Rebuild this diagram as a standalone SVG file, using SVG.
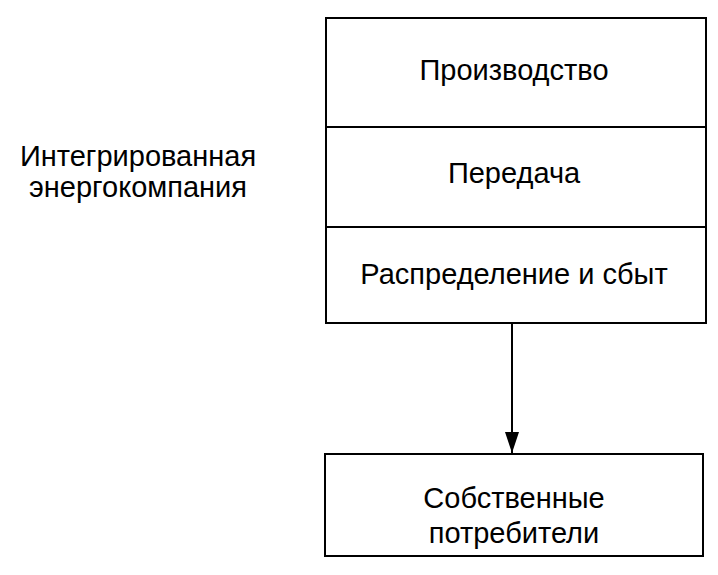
<svg xmlns="http://www.w3.org/2000/svg" width="718" height="575" viewBox="0 0 718 575">
<style>
.box{fill:#fff;stroke:#000;stroke-width:2}
.t{font-family:"Liberation Sans",Arial,sans-serif;font-size:29px;fill:#000;text-anchor:middle}
.c{stroke:#000;stroke-width:2;fill:none}
</style>
<defs>
<marker id="ah" markerUnits="userSpaceOnUse" markerWidth="22" markerHeight="14" refX="21" refY="7" orient="auto" viewBox="0 0 22 14">
<path d="M0,0 L21,7 L0,14 Z" fill="#000"/>
</marker>
</defs>
<rect width="718" height="575" fill="#fff"/>
<g id="label">
<text class="t" x="138" y="166">Интегрированная</text>
<text class="t" x="138" y="197">энергокомпания</text>
</g>
<g id="proizvodstvo">
<rect class="box" x="326" y="18" width="380" height="109"/>
<text class="t" x="514" y="80">Производство</text>
</g>
<g id="peredacha">
<rect class="box" x="326" y="127" width="380" height="100"/>
<text class="t" x="514" y="183">Передача</text>
</g>
<g id="raspredelenie">
<rect class="box" x="326" y="227" width="380" height="96"/>
<text class="t" x="514" y="284">Распределение и сбыт</text>
</g>
<g id="potrebiteli">
<rect class="box" x="325" y="454" width="378" height="102"/>
<text class="t" x="514" y="508">Собственные</text>
<text class="t" x="514" y="543">потребители</text>
</g>
<g id="connectors">
<line class="c" x1="512" y1="323" x2="512" y2="453" marker-end="url(#ah)"/>
</g>
</svg>
